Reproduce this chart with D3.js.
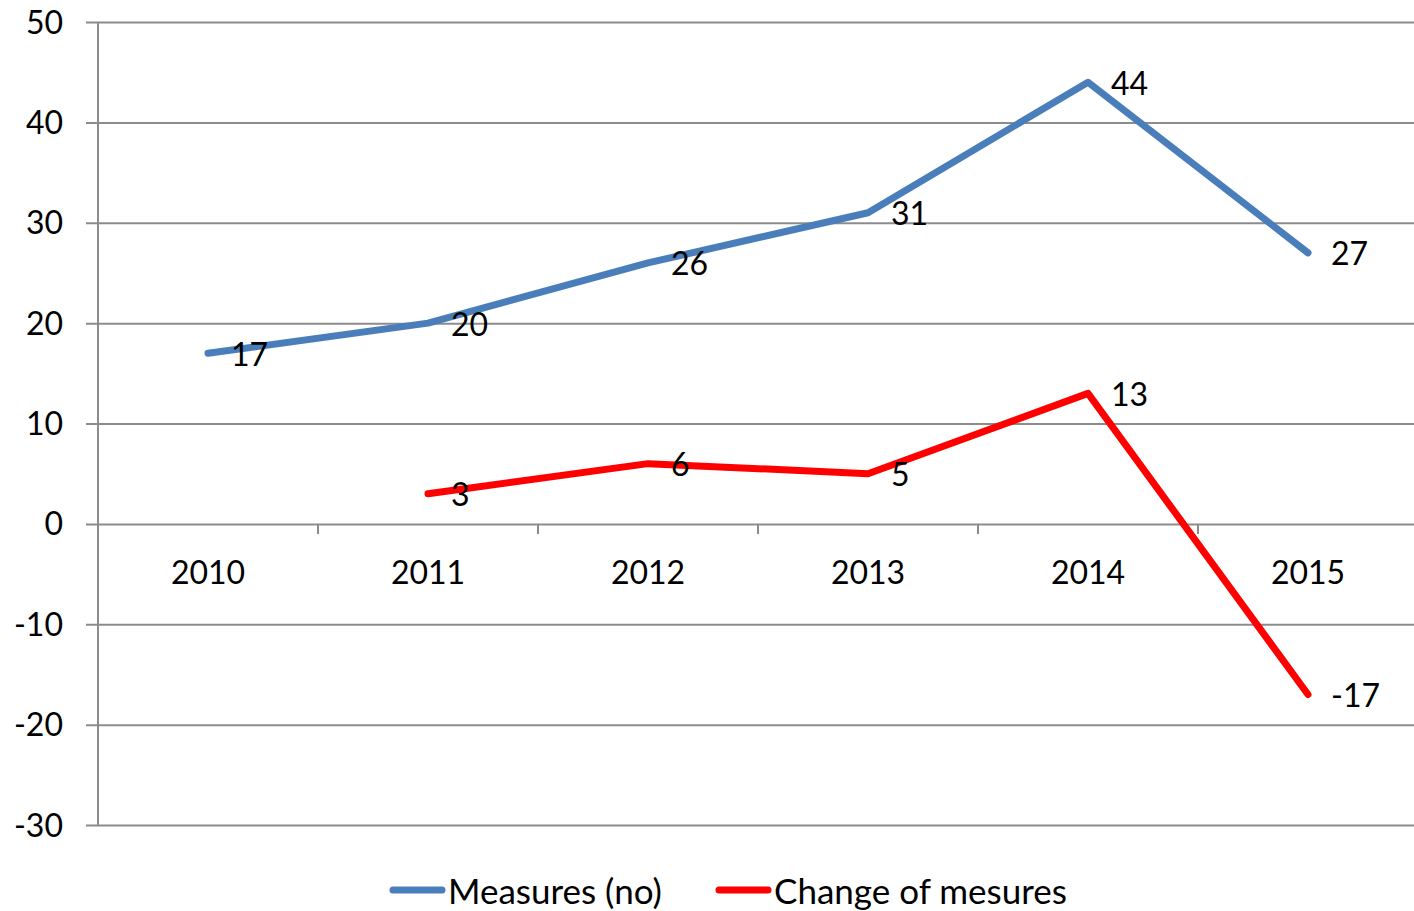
<!DOCTYPE html>
<html><head><meta charset="utf-8">
<script src="https://cdn.jsdelivr.net/npm/d3@7"></script>
<style>body{margin:0;background:#fff}svg{display:block}text{font-family:Lato,"Open Sans",sans-serif;fill:#000}</style>
</head><body>
<svg id="c" width="1414" height="911"></svg>
<script>
const categories = ["2010","2011","2012","2013","2014","2015"];
const measures = [17,20,26,31,44,27];
const changes = [null,3,6,5,13,-17];
const yTicks = [-30,-20,-10,0,10,20,30,40,50];
const seriesNames = ["Measures (no)","Change of mesures"];
const colors = ["#4a7ebb","#ff0000"];

(function(){
const svg = d3.select("#c");
const pL = 98, pR = 1418, pT = 22, pB = 825;
const x = d3.scaleBand().domain(categories).range([pL,pR]);
const y = d3.scaleLinear().domain([-30,50]).range([pB,pT]);
const cx = d => x(d) + x.bandwidth()/2;

svg.append("g").selectAll("line").data(yTicks).join("line")
  .attr("x1",86).attr("x2",1414).attr("y1",d=>y(d)+0.5).attr("y2",d=>y(d)+0.5)
  .attr("stroke","#8c8c8c").attr("stroke-width",2);
svg.append("line").attr("x1",pL).attr("x2",pL).attr("y1",pT).attr("y2",pB)
  .attr("stroke","#8c8c8c").attr("stroke-width",2);
svg.append("g").selectAll("text").data(yTicks).join("text")
  .attr("x",63).attr("y",d=>y(d)).attr("dy","0.36em").attr("text-anchor","end")
  .attr("font-size",32).text(d=>d);
svg.append("g").selectAll("line").data(categories.slice(1)).join("line")
  .attr("x1",d=>x(d)).attr("x2",d=>x(d)).attr("y1",y(0)).attr("y2",y(0)+10)
  .attr("stroke","#8c8c8c").attr("stroke-width",2);
svg.append("g").selectAll("text").data(categories).join("text")
  .attr("x",d=>cx(d)).attr("y",y(0)+60).attr("text-anchor","middle")
  .attr("font-size",32).text(d=>d);

const series = [measures, changes];
series.forEach((vals,i)=>{
  const pts = categories.map((c,j)=>({c,v:vals[j]})).filter(p=>p.v!==null);
  const line = d3.line().x(p=>cx(p.c)).y(p=>y(p.v));
  svg.append("path").attr("d",line(pts)).attr("fill","none")
    .attr("stroke",colors[i]).attr("stroke-width",7)
    .attr("stroke-linejoin","round").attr("stroke-linecap","round");
  svg.append("g").selectAll("text").data(pts).join("text")
    .attr("x",p=>cx(p.c)+23).attr("y",p=>y(p.v)+1).attr("dy","0.36em")
    .attr("font-size",32).text(p=>p.v);
});

const legX = [390,716];
seriesNames.forEach((n,i)=>{
  svg.append("line").attr("x1",legX[i]+3).attr("x2",legX[i]+52).attr("y1",890).attr("y2",890)
    .attr("stroke",colors[i]).attr("stroke-width",7).attr("stroke-linecap","round");
  svg.append("text").attr("x",legX[i]+58).attr("y",891).attr("dy","0.36em")
    .attr("font-size",35).text(n);
});
})();
</script>
</body></html>
